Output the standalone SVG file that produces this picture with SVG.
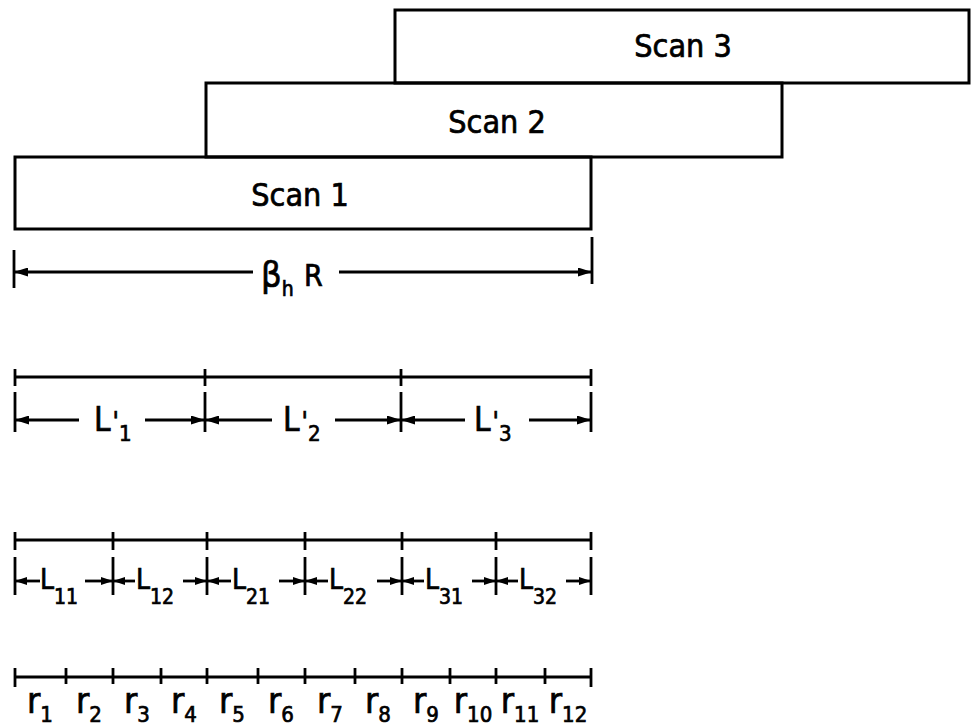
<svg xmlns="http://www.w3.org/2000/svg" width="971" height="726" viewBox="0 0 971 726">
<defs>
<style>
.box{fill:none;stroke:#000;stroke-width:3}
.ln{stroke:#000;stroke-width:2.8;fill:none}
.tk{stroke:#000;stroke-width:2.8}
.t{font-family:'DejaVu Sans Condensed','DejaVu Sans',sans-serif;font-stretch:condensed;fill:#000;stroke:#000;stroke-width:0.7}
.scan{font-size:32px;text-anchor:middle}
</style>
<marker id="ah" markerUnits="userSpaceOnUse" markerWidth="14" markerHeight="9" refX="13" refY="4.5" orient="auto">
<path d="M0,0 L14,4.5 L0,9 z" fill="#000"/>
</marker>
<marker id="ahs" markerUnits="userSpaceOnUse" markerWidth="12" markerHeight="8" refX="11" refY="4" orient="auto">
<path d="M0,0 L12,4 L0,8 z" fill="#000"/>
</marker>
</defs>
<rect x="0" y="0" width="971" height="726" fill="#fff"/>

<g id="scan3">
<path class="box" d="M395,83 V10 H969 V83 Z"/>
<text class="t scan" x="683" y="57">Scan 3</text>
</g>
<g id="scan2">
<rect class="box" x="206" y="83" width="576" height="74"/>
<text class="t scan" x="497" y="133">Scan 2</text>
</g>
<g id="scan1">
<rect class="box" x="15" y="157" width="576" height="72"/>
<text class="t scan" x="300" y="206">Scan 1</text>
</g>

<g id="connectors">
<g id="dim-betaR">
<line class="tk" x1="14" y1="250" x2="14" y2="288"/>
<line class="tk" x1="592" y1="237" x2="592" y2="284"/>
<line class="ln" x1="253" y1="272" x2="15" y2="272" marker-end="url(#ah)"/>
<line class="ln" x1="339" y1="272" x2="591" y2="272" marker-end="url(#ah)"/>
<text class="t" x="261" y="287" font-size="36">β<tspan font-size="21" dy="9">h</tspan></text>
<text class="t" x="304" y="286" font-size="30">R</text>
</g>

<g id="dim-Lprime">
<line class="ln" x1="15" y1="377" x2="591" y2="377"/>
<line class="tk" x1="15" y1="369" x2="15" y2="386"/>
<line class="tk" x1="205" y1="369" x2="205" y2="386"/>
<line class="tk" x1="401" y1="369" x2="401" y2="386"/>
<line class="tk" x1="591" y1="369" x2="591" y2="386"/>
<line class="tk" x1="15" y1="392" x2="15" y2="432"/>
<line class="tk" x1="205" y1="392" x2="205" y2="432"/>
<line class="tk" x1="401" y1="392" x2="401" y2="432"/>
<line class="tk" x1="591" y1="392" x2="591" y2="432"/>
<line class="ln" x1="79" y1="420" x2="16" y2="420" marker-end="url(#ah)"/>
<line class="ln" x1="145" y1="420" x2="204" y2="420" marker-end="url(#ah)"/>
<line class="ln" x1="272" y1="420" x2="206" y2="420" marker-end="url(#ah)"/>
<line class="ln" x1="335" y1="420" x2="400" y2="420" marker-end="url(#ah)"/>
<line class="ln" x1="465" y1="420" x2="402" y2="420" marker-end="url(#ah)"/>
<line class="ln" x1="529" y1="420" x2="590" y2="420" marker-end="url(#ah)"/>
<text class="t" x="94" y="431" font-size="33">L<tspan font-size="26" dx="2">'</tspan><tspan font-size="22" dy="10">1</tspan></text>
<text class="t" x="283" y="431" font-size="33">L<tspan font-size="26" dx="2">'</tspan><tspan font-size="22" dy="10">2</tspan></text>
<text class="t" x="474" y="431" font-size="33">L<tspan font-size="26" dx="2">'</tspan><tspan font-size="22" dy="10">3</tspan></text>
</g>

<g id="dim-L">
<line class="ln" x1="15" y1="540" x2="591" y2="540"/>
<g class="tk">
<line x1="15" y1="532" x2="15" y2="550"/>
<line x1="113" y1="532" x2="113" y2="550"/>
<line x1="207" y1="532" x2="207" y2="550"/>
<line x1="305" y1="532" x2="305" y2="550"/>
<line x1="402" y1="532" x2="402" y2="550"/>
<line x1="496" y1="532" x2="496" y2="550"/>
<line x1="591" y1="532" x2="591" y2="550"/>
<line x1="15" y1="557" x2="15" y2="595"/>
<line x1="113" y1="557" x2="113" y2="595"/>
<line x1="207" y1="557" x2="207" y2="595"/>
<line x1="305" y1="557" x2="305" y2="595"/>
<line x1="402" y1="557" x2="402" y2="595"/>
<line x1="496" y1="557" x2="496" y2="595"/>
<line x1="591" y1="557" x2="591" y2="595"/>
</g>
<line class="ln" x1="40" y1="581" x2="16" y2="581" marker-end="url(#ahs)"/>
<line class="ln" x1="85" y1="581" x2="112" y2="581" marker-end="url(#ahs)"/>
<line class="ln" x1="135" y1="581" x2="114" y2="581" marker-end="url(#ahs)"/>
<line class="ln" x1="183" y1="581" x2="206" y2="581" marker-end="url(#ahs)"/>
<line class="ln" x1="231" y1="581" x2="208" y2="581" marker-end="url(#ahs)"/>
<line class="ln" x1="279" y1="581" x2="304" y2="581" marker-end="url(#ahs)"/>
<line class="ln" x1="328" y1="581" x2="306" y2="581" marker-end="url(#ahs)"/>
<line class="ln" x1="377" y1="581" x2="401" y2="581" marker-end="url(#ahs)"/>
<line class="ln" x1="424" y1="581" x2="403" y2="581" marker-end="url(#ahs)"/>
<line class="ln" x1="472" y1="581" x2="495" y2="581" marker-end="url(#ahs)"/>
<line class="ln" x1="518" y1="581" x2="497" y2="581" marker-end="url(#ahs)"/>
<line class="ln" x1="566" y1="581" x2="590" y2="581" marker-end="url(#ahs)"/>
<g class="t" font-size="28">
<text x="40" y="589">L<tspan font-size="21" dy="15">11</tspan></text>
<text x="136" y="589">L<tspan font-size="21" dy="15">12</tspan></text>
<text x="232" y="589">L<tspan font-size="21" dy="15">21</tspan></text>
<text x="329" y="589">L<tspan font-size="21" dy="15">22</tspan></text>
<text x="425" y="589">L<tspan font-size="21" dy="15">31</tspan></text>
<text x="519" y="589">L<tspan font-size="21" dy="15">32</tspan></text>
</g>
</g>

<g id="dim-r">
<line class="ln" x1="15" y1="677" x2="591" y2="677"/>
<g class="tk">
<line x1="15" y1="668" x2="15" y2="687"/>
<line x1="66" y1="668" x2="66" y2="684"/>
<line x1="113" y1="668" x2="113" y2="684"/>
<line x1="161" y1="668" x2="161" y2="684"/>
<line x1="207" y1="668" x2="207" y2="684"/>
<line x1="258" y1="668" x2="258" y2="684"/>
<line x1="305" y1="668" x2="305" y2="684"/>
<line x1="355" y1="668" x2="355" y2="684"/>
<line x1="402" y1="668" x2="402" y2="684"/>
<line x1="450" y1="668" x2="450" y2="684"/>
<line x1="496" y1="668" x2="496" y2="684"/>
<line x1="545" y1="668" x2="545" y2="684"/>
<line x1="591" y1="668" x2="591" y2="687"/>
</g>
<g class="t" font-size="36" text-anchor="middle">
<text x="40" y="713">r<tspan font-size="22" dy="9">1</tspan></text>
<text x="89" y="713">r<tspan font-size="22" dy="9">2</tspan></text>
<text x="137" y="713">r<tspan font-size="22" dy="9">3</tspan></text>
<text x="184" y="713">r<tspan font-size="22" dy="9">4</tspan></text>
<text x="232" y="713">r<tspan font-size="22" dy="9">5</tspan></text>
<text x="281" y="713">r<tspan font-size="22" dy="9">6</tspan></text>
<text x="330" y="713">r<tspan font-size="22" dy="9">7</tspan></text>
<text x="378" y="713">r<tspan font-size="22" dy="9">8</tspan></text>
<text x="426" y="713">r<tspan font-size="22" dy="9">9</tspan></text>
<text x="473" y="713">r<tspan font-size="22" dy="9">10</tspan></text>
<text x="520" y="713">r<tspan font-size="22" dy="9">11</tspan></text>
<text x="568" y="713">r<tspan font-size="22" dy="9">12</tspan></text>
</g>
</g>
</g>
</svg>
